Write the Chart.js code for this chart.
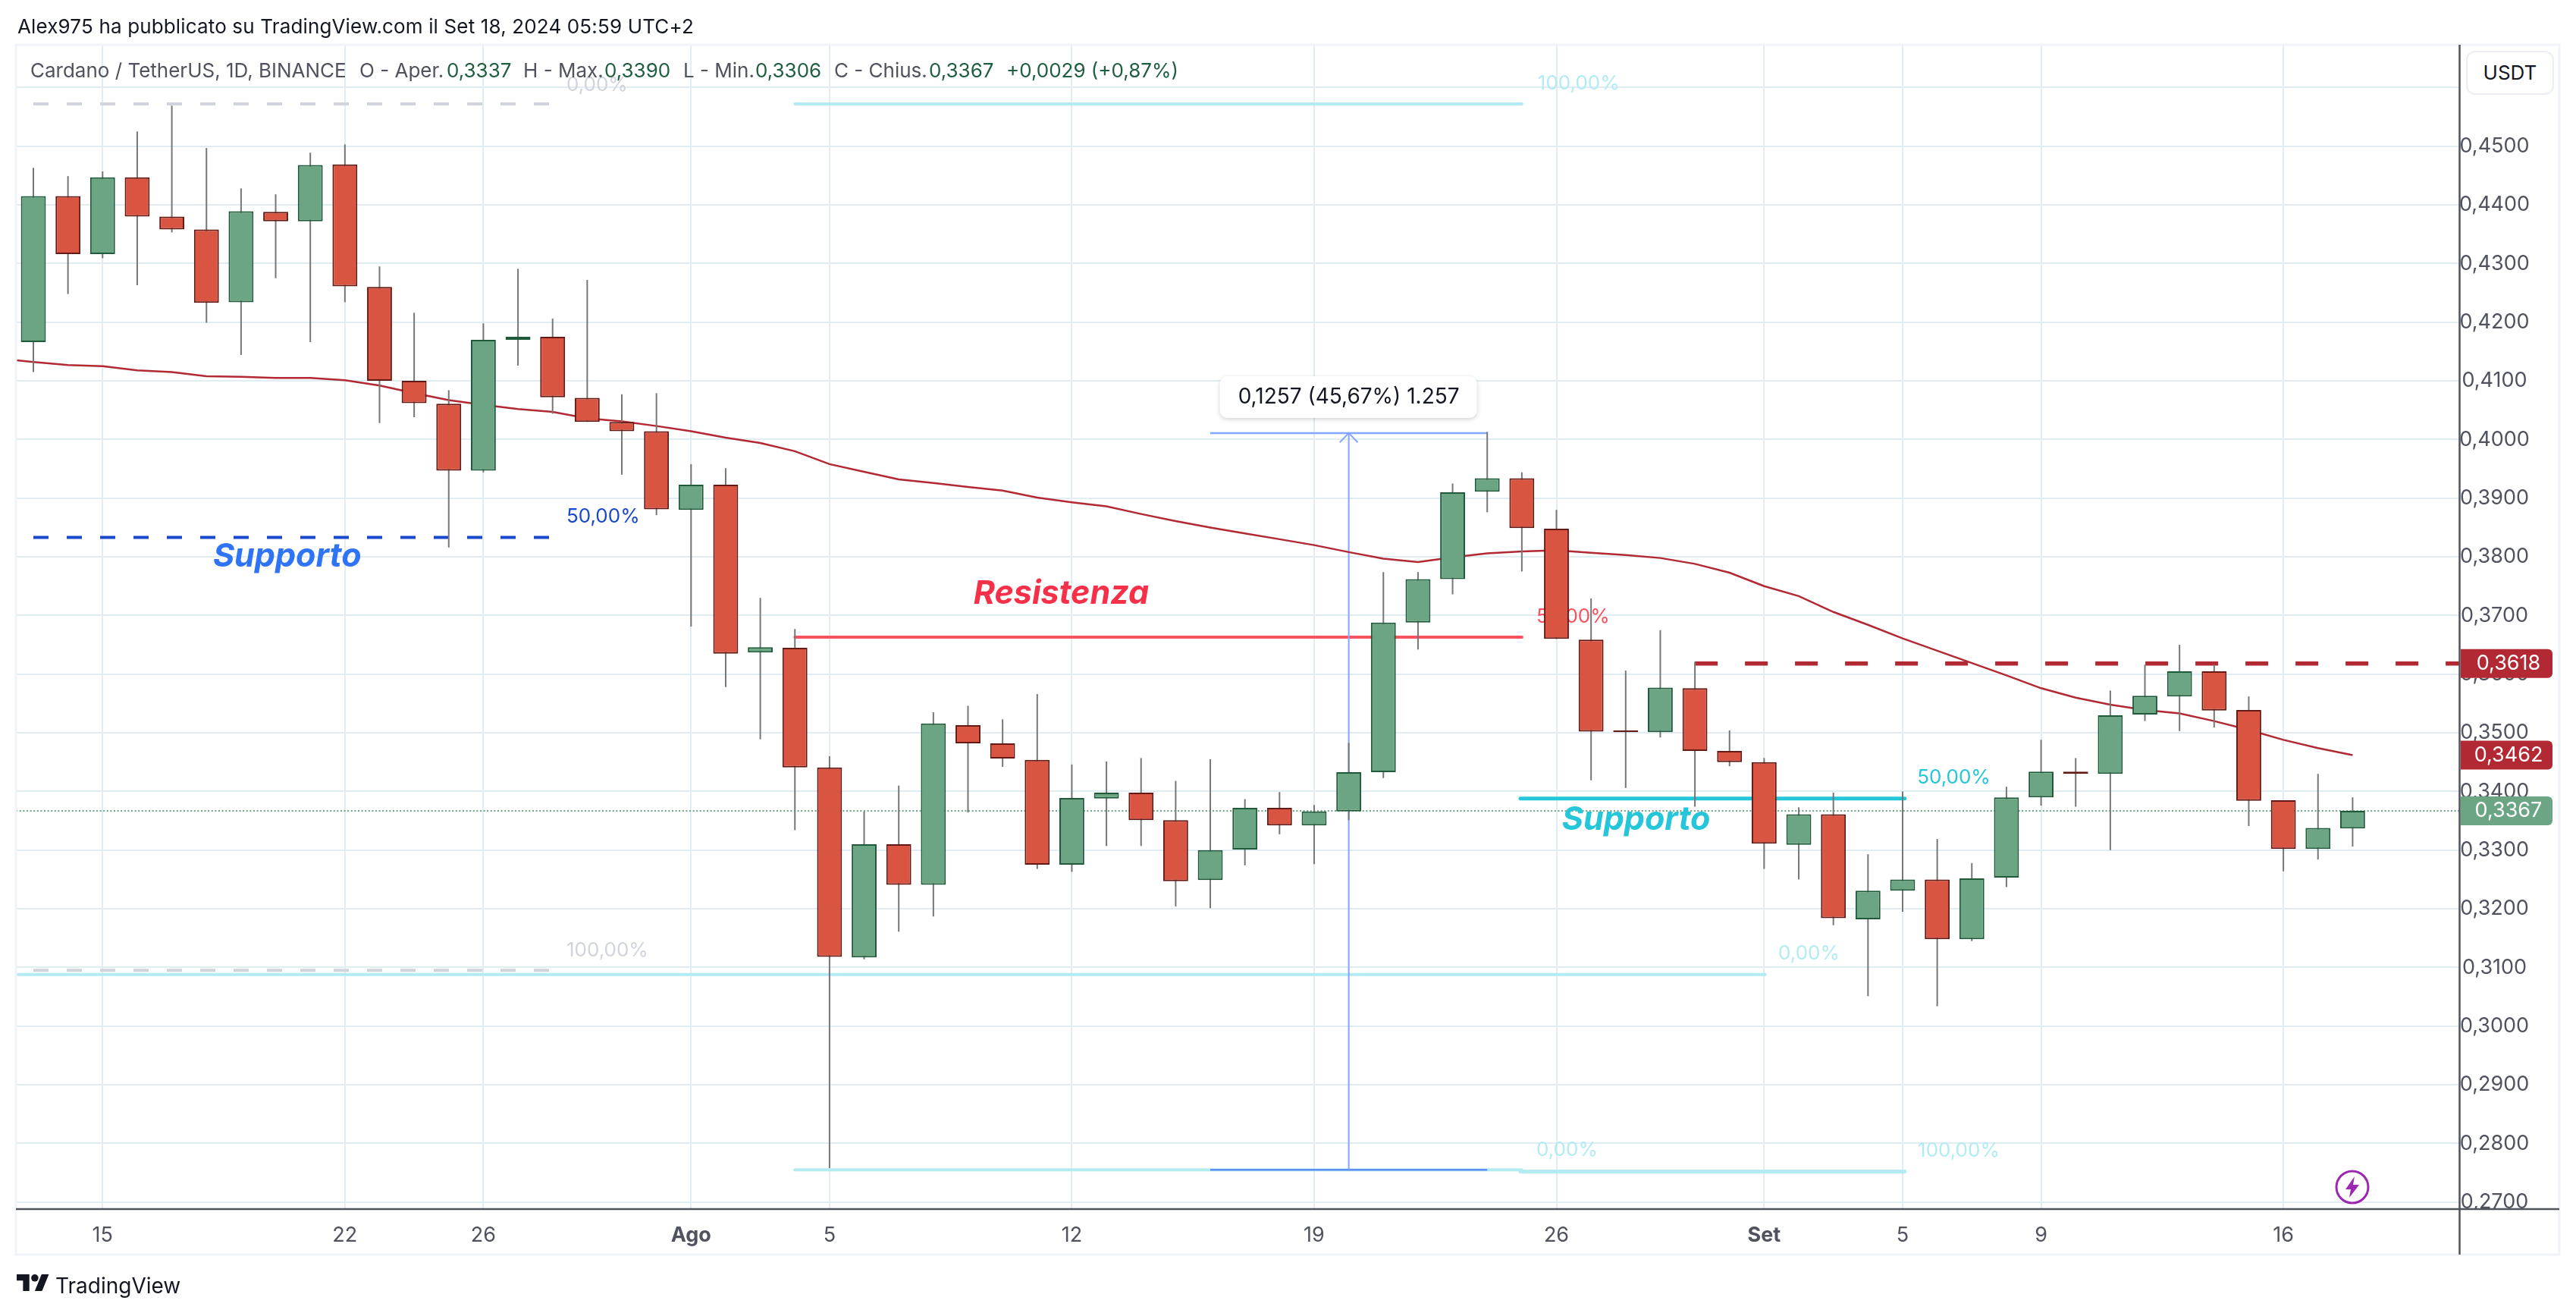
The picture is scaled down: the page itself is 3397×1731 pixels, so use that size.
<!DOCTYPE html>
<html lang="it">
<head>
<meta charset="utf-8">
<title>Cardano / TetherUS</title>
<script src="https://cdn.jsdelivr.net/npm/chart.js@4"></script>
<style>
    html, body { margin: 0; padding: 0; background: #fff; overflow: hidden; }
    body { width: 3397px; height: 1731px; position: relative; font-family: Inter, sans-serif; }
    canvas { position: absolute; left: 0; top: 0; }
    .txt { position: absolute; white-space: pre; font-size: 26px; line-height: 32px; }
    #author { left: 23px; top: 19px; color: #131722; letter-spacing: 0.15px; }
    .leg { top: 77px; color: #50535e; }
    .val { top: 77px; color: #1f5f40; }
    #unit { left: 3252px; top: 67px; width: 112px; height: 54px; line-height: 54px; text-align: center;
            border: 2px solid #eceef4; border-radius: 12px; color: #131722; background: #fff; }
    #brand { left: 73px; top: 1677px; font-size: 28px; line-height: 36px; color: #131722; }
    #logo { position: absolute; left: 22px; top: 1680px; }
    #bolt { position: absolute; left: 3079px; top: 1542px; }
</style>
</head>
<body>
<canvas id="chart" width="3397" height="1731"></canvas>
<div class="txt" id="author">Alex975 ha pubblicato su TradingView.com il Set 18, 2024 05:59 UTC+2</div>
<div class="txt leg" style="left:40px">Cardano / TetherUS, 1D, BINANCE</div>
<div class="txt leg" style="left:474px">O - Aper.</div>
<div class="txt val" style="left:589px">0,3337</div>
<div class="txt leg" style="left:690px">H - Max.</div>
<div class="txt val" style="left:797px">0,3390</div>
<div class="txt leg" style="left:901px">L - Min.</div>
<div class="txt val" style="left:996px">0,3306</div>
<div class="txt leg" style="left:1100px">C - Chius.</div>
<div class="txt val" style="left:1225px">0,3367</div>
<div class="txt val" style="left:1327px">+0,0029 (+0,87%)</div>
<div class="txt" id="unit">USDT</div>
<svg id="logo" width="43" height="22" viewBox="0 0 36 18.4"><path fill="#131722" d="M14 18.4H7V7H0V0h14v18.4zM28 18.4h-8L27.5 0h8L28 18.4z"/><circle fill="#131722" cx="20" cy="4" r="4"/></svg>
<div class="txt" id="brand">TradingView</div>
<svg id="bolt" width="46" height="46" viewBox="0 0 46 46"><circle cx="23" cy="23" r="21" fill="#fff" stroke="#9c27b0" stroke-width="3"/><path fill="#9c27b0" d="M26 9 L14 26 H21 L19 37 L32 20 H24 Z"/></svg>

<script>
// candle values, one per day from 13 Jul to 18 Sep 2024
const opens = [0.4166,0.4415,0.4316,0.4447,0.4380,0.4358,0.4234,0.4388,0.4372,0.4469,
    0.4260,0.4100,0.4061,0.3947,0.4170,0.4175,0.4071,0.4030,0.4014,0.3880,
    0.3923,0.3637,0.3645,0.3441,0.3117,0.3310,0.3241,0.3513,0.3482,0.3454,
    0.3275,0.3388,0.3398,0.3351,0.3249,0.3301,0.3372,0.3342,0.3366,0.3433,
    0.3688,0.3762,0.3911,0.3934,0.3848,0.3659,0.3504,0.3501,0.3576,0.3469,
    0.3450,0.3309,0.3361,0.3182,0.3231,0.3250,0.3148,0.3253,0.3390,0.3434,
    0.3430,0.3531,0.3562,0.3605,0.3539,0.3385,0.3302,0.3337];
const highs = [0.4463,0.4449,0.4457,0.4525,0.4569,0.4497,0.4428,0.4418,0.4489,0.4503,
    0.4295,0.4216,0.4084,0.4198,0.4291,0.4206,0.4272,0.4077,0.4079,0.3958,
    0.3951,0.3730,0.3677,0.3460,0.3366,0.3410,0.3535,0.3546,0.3523,0.3566,
    0.3446,0.3451,0.3457,0.3418,0.3455,0.3387,0.3399,0.3377,0.3483,0.3774,
    0.3774,0.3925,0.4013,0.3944,0.3880,0.3729,0.3606,0.3675,0.3621,0.3504,
    0.3457,0.3373,0.3398,0.3293,0.3400,0.3319,0.3278,0.3408,0.3488,0.3457,
    0.3572,0.3616,0.3650,0.3616,0.3562,0.3385,0.3430,0.3390];
const lows = [0.4115,0.4248,0.4309,0.4263,0.4353,0.4199,0.4144,0.4275,0.4166,0.4234,
    0.4028,0.4038,0.3816,0.3944,0.4126,0.4044,0.4030,0.3940,0.3871,0.3681,
    0.3578,0.3489,0.3334,0.2758,0.3114,0.3161,0.3187,0.3364,0.3442,0.3268,
    0.3263,0.3307,0.3307,0.3204,0.3201,0.3274,0.3327,0.3276,0.3351,0.3423,
    0.3642,0.3736,0.3876,0.3775,0.3660,0.3419,0.3406,0.3492,0.3374,0.3443,
    0.3268,0.3250,0.3172,0.3051,0.3195,0.3034,0.3145,0.3237,0.3376,0.3374,
    0.3300,0.3520,0.3503,0.3509,0.3341,0.3264,0.3284,0.3306];
const closes = [0.4415,0.4316,0.4447,0.4380,0.4358,0.4233,0.4389,0.4372,0.4468,0.4261,
    0.4100,0.4062,0.3947,0.4170,0.4175,0.4072,0.4030,0.4014,0.3881,0.3923,
    0.3635,0.3646,0.3441,0.3118,0.3310,0.3241,0.3516,0.3482,0.3456,0.3275,
    0.3389,0.3398,0.3351,0.3247,0.3300,0.3372,0.3342,0.3366,0.3433,0.3688,
    0.3762,0.3910,0.3934,0.3849,0.3660,0.3502,0.3501,0.3577,0.3469,0.3450,
    0.3311,0.3361,0.3184,0.3231,0.3250,0.3148,0.3252,0.3390,0.3434,0.3430,
    0.3530,0.3563,0.3605,0.3538,0.3384,0.3302,0.3338,0.3367];
// red moving average, the first value is the day before the first candle
const average = [0.4138,0.4132,0.4127,0.4125,0.4118,0.4115,0.4108,0.4107,0.4105,0.4105,0.4101,
    0.4092,0.4079,0.4067,0.4059,0.4052,0.4047,0.4036,0.4031,0.4023,0.4014,
    0.4003,0.3994,0.3980,0.3958,0.3945,0.3932,0.3926,0.3919,0.3913,0.3901,
    0.3893,0.3886,0.3873,0.3861,0.3850,0.3840,0.3830,0.3820,0.3808,0.3797,
    0.3791,0.3799,0.3806,0.3809,0.3811,0.3807,0.3803,0.3798,0.3788,0.3773,
    0.3750,0.3733,0.3706,0.3684,0.3661,0.3640,0.3619,0.3598,0.3576,0.3560,
    0.3548,0.3539,0.3533,0.3520,0.3505,0.3488,0.3474,0.3462];

// axes
const priceTicks = [0.27,0.28,0.29,0.30,0.31,0.32,0.33,0.34,0.35,0.36,0.37,0.38,0.39,0.40,0.41,0.42,0.43,0.44,0.45,0.46];
const dayTicks = [2,9,13,19,23,30,37,44,50,54,58,65];
const dayLabels = ['15','22','26','Ago','5','12','19','26','Set','5','9','16'];
const boldDays = ['Ago','Set'];
const priceMin = 0.26881, priceMax = 0.46729;

// drawn lines [x1, x2, price]
const greyTop = [0, 14.9, 0.4572];
const greyBottom = [0, 14.9, 0.3095];
const blueSupport = [0, 14.9, 0.3833];
const paleTop = [22, 43, 0.4572];
const paleMiddle = [-0.5, 50.03, 0.3088];
const paleBottom = [22, 43, 0.2755];
const paleLow = [42.96, 54.06, 0.2752];
const redResist = [22, 43, 0.3663];
const cyanSupport = [42.96, 54.06, 0.3388];
const darkResist = [48, 70.1, 0.3618];
const lastPrice = [-0.5, 70.1, 0.3367];
const measureTop = [34, 42, 0.4011];
const measureBottom = [34, 42, 0.2755];
const measureStem = [[38, 0.2755], [38, 0.4011]];
const measureHead = [[37.74, 0.3995], [38, 0.4011], [38.26, 0.3995]];

// texts [text, x, price, colour]
const smallTexts = [
    ['0,00%', 15.4, 0.4604, '#d1d4dc'],
    ['50,00%', 15.4, 0.3868, '#1848cc'],
    ['100,00%', 15.4, 0.3129, '#d1d4dc'],
    ['100,00%', 43.46, 0.4607, '#b2ebf2'],
    ['50,00%', 43.42, 0.3698, '#f7525f'],
    ['0,00%', 43.42, 0.2789, '#b2ebf2'],
    ['100,00%', 54.44, 0.2787, '#b2ebf2'],
    ['50,00%', 54.42, 0.3423, '#26c6da'],
    ['0,00%', 50.41, 0.3123, '#b2ebf2']
];
const bigTexts = [
    ['Supporto', 5.19, 0.3800, '#2e74f5'],
    ['Resistenza', 27.16, 0.3736, '#f7304a'],
    ['Supporto', 44.16, 0.3351, '#26c6da']
];
const measureLabel = ['0,1257 (45,67%) 1.257', 38, 0.4073];
const priceTags = [[0.3618, '0,3618', '#b22833'], [0.3462, '0,3462', '#b22833'], [0.3367, '0,3367', '#6ca584']];

const font = 'Inter, sans-serif';
const colors = {
    up: '#6ca584', upEdge: '#1f5a3a',
    down: '#d95441', downEdge: '#631a14',
    wick: '#767676', grid: '#e1ecf3', axis: '#50535e', frame: '#f0f3fa'
};

function flatLine(line, color, width, dash, order, cap) {
    return {
        type: 'line',
        data: [{ x: line[0], y: line[2] }, { x: line[1], y: line[2] }],
        borderColor: color, borderWidth: width, borderDash: dash || [],
        borderCapStyle: cap || 'butt',
        pointRadius: 0, order: order || 5
    };
}
function pointsLine(points, color, width) {
    return {
        type: 'line',
        data: points.map(p => ({ x: p[0], y: p[1] })),
        borderColor: color, borderWidth: width,
        pointRadius: 0, order: 4
    };
}

const indexes = closes.map((c, i) => i);
const isUp = indexes.map(i => closes[i] >= opens[i]);

const labelsPlugin = {
    id: 'labels',
    // under the candles
    beforeDatasetsDraw(chart) {
        const { ctx, scales } = chart;
        ctx.save();
        ctx.font = '26px ' + font;
        ctx.textBaseline = 'middle';
        smallTexts.forEach(t => {
            ctx.fillStyle = t[3];
            ctx.fillText(t[0], scales.x.getPixelForValue(t[1]), scales.y.getPixelForValue(t[2]));
        });
        ctx.restore();
    },
    afterDatasetsDraw(chart) {
        const { ctx, scales } = chart;
        ctx.save();
        ctx.font = 'italic 700 43px ' + font;
        ctx.textBaseline = 'middle';
        bigTexts.forEach(t => {
            ctx.fillStyle = t[3];
            ctx.fillText(t[0], scales.x.getPixelForValue(t[1]), scales.y.getPixelForValue(t[2]));
        });

        // measure box
        const bx = scales.x.getPixelForValue(measureLabel[1]);
        const by = scales.y.getPixelForValue(measureLabel[2]);
        ctx.shadowColor = 'rgba(0,0,0,0.18)';
        ctx.shadowBlur = 6;
        ctx.shadowOffsetY = 2;
        ctx.fillStyle = '#fff';
        ctx.beginPath();
        ctx.roundRect(bx - 170, by - 27, 339, 55, 10);
        ctx.fill();
        ctx.shadowColor = 'transparent';
        ctx.fillStyle = '#131722';
        ctx.font = '28px ' + font;
        ctx.textAlign = 'center';
        ctx.fillText(measureLabel[0], bx, by + 1);
        ctx.restore();
    },
    afterDraw(chart) {
        const { ctx, scales } = chart;
        ctx.save();
        // clip the 0,2700 label at the time axis
        ctx.fillStyle = '#fff';
        ctx.fillRect(3245, 1593, 128, 30);

        ctx.strokeStyle = colors.frame;
        ctx.lineWidth = 3;
        ctx.strokeRect(21, 59, 3354, 1595);

        ctx.strokeStyle = colors.axis;
        ctx.lineWidth = 2.5;
        ctx.beginPath();
        ctx.moveTo(21, 1594);
        ctx.lineTo(3375, 1594);
        ctx.moveTo(3243.5, 59);
        ctx.lineTo(3243.5, 1654);
        ctx.stroke();

        // price tags
        ctx.font = '27px ' + font;
        ctx.textAlign = 'center';
        ctx.textBaseline = 'middle';
        priceTags.forEach(t => {
            const y = scales.y.getPixelForValue(t[0]);
            ctx.fillStyle = t[2];
            ctx.beginPath();
            ctx.roundRect(3245, y - 19, 121, 38, [0, 6, 6, 0]);
            ctx.fill();
            ctx.fillStyle = '#fff';
            ctx.fillText(t[1], 3308, y);
        });
        ctx.restore();
    }
};

new Chart(document.getElementById('chart'), {
    type: 'bar',
    data: {
        datasets: [
            {
                // bodies
                data: indexes.map(i => ({ x: i, y: [Math.min(opens[i], closes[i]), Math.max(opens[i], closes[i])] })),
                backgroundColor: isUp.map(u => u ? colors.up : colors.down),
                borderColor: isUp.map(u => u ? colors.upEdge : colors.downEdge),
                borderWidth: 2,
                borderSkipped: false,
                grouped: false,
                maxBarThickness: 36,
                order: 0
            },
            {
                // wicks
                data: indexes.map(i => ({ x: i, y: [lows[i], highs[i]] })),
                backgroundColor: colors.wick,
                borderWidth: 0,
                grouped: false,
                maxBarThickness: 2,
                order: 1
            },
            {
                type: 'line',
                data: average.map((v, i) => ({ x: i - 1, y: v })),
                borderColor: '#b22833', borderWidth: 2.5,
                pointRadius: 0, order: 2
            },
            flatLine(darkResist, '#b22833', 5.5, [30, 36], 3),
            pointsLine(measureStem, '#82a5ff', 2),
            pointsLine(measureHead, '#82a5ff', 2),
            flatLine(measureTop, '#82a5ff', 2.5, null, 4),
            flatLine(measureBottom, '#5e8eff', 2.5, null, 4),
            flatLine(greyTop, '#d1d4dc', 4, [20, 24]),
            flatLine(greyBottom, '#d1d4dc', 4, [20, 24]),
            flatLine(blueSupport, '#1848cc', 4, [20, 24]),
            flatLine(paleTop, '#b2ebf2', 4, null, 6, 'round'),
            flatLine(paleMiddle, '#b2ebf2', 4, null, 6, 'round'),
            flatLine(paleBottom, '#b2ebf2', 4, null, 6, 'round'),
            flatLine(paleLow, '#b2ebf2', 5, null, 6, 'round'),
            flatLine(redResist, '#f7525f', 4, null, 5, 'round'),
            flatLine(cyanSupport, '#26c6da', 5, null, 5, 'round'),
            flatLine(lastPrice, colors.up, 2, [2, 2.6], 7)
        ]
    },
    options: {
        responsive: false,
        animation: false,
        devicePixelRatio: 1,
        layout: { padding: { left: 22, right: 22, top: 59, bottom: 0 } },
        plugins: { legend: { display: false }, tooltip: { enabled: false } },
        scales: {
            x: {
                type: 'linear',
                offset: false,
                min: -0.482,
                max: 70.08,
                afterBuildTicks: s => { s.ticks = dayTicks.map(v => ({ value: v })); },
                afterFit: s => { s.height = 137; },
                grid: { color: colors.grid, lineWidth: 2, drawTicks: false, offset: false },
                border: { display: false },
                ticks: {
                    autoSkip: false, maxRotation: 0, padding: 19,
                    color: colors.axis,
                    font: c => ({
                        family: font, size: 27,
                        weight: boldDays.includes(dayLabels[dayTicks.indexOf(c.tick && c.tick.value)]) ? '700' : '400'
                    }),
                    callback: v => dayLabels[dayTicks.indexOf(v)]
                }
            },
            y: {
                type: 'linear',
                position: 'right',
                min: priceMin,
                max: priceMax,
                afterBuildTicks: s => { s.ticks = priceTicks.map(v => ({ value: v })); },
                afterFit: s => { s.width = 132; },
                grid: { color: colors.grid, lineWidth: 2, drawTicks: false },
                border: { display: false },
                ticks: {
                    crossAlign: 'center', padding: 0,
                    color: colors.axis,
                    font: { family: font, size: 27 },
                    callback: v => v > 0.455 ? '' : v.toFixed(4).replace('.', ',')
                }
            }
        }
    },
    plugins: [labelsPlugin]
});
</script>
</body>
</html>
